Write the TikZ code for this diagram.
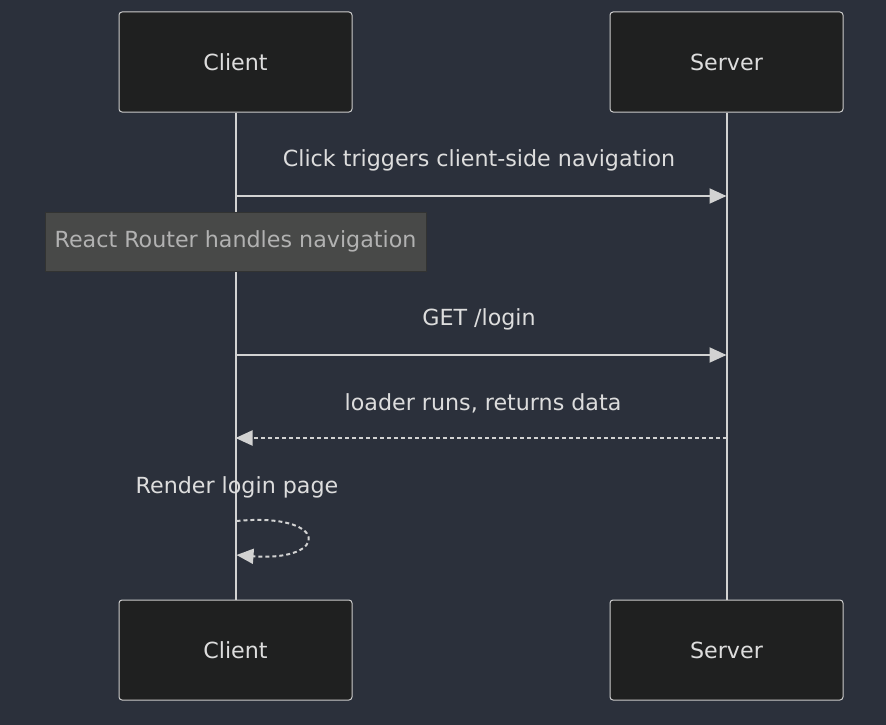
\documentclass[tikz,border=0pt]{standalone}
\usepackage{fontspec}
\setmainfont{DejaVu Sans}
\usetikzlibrary{arrows.meta}
\definecolor{bg}{RGB}{43,48,59}
\definecolor{boxfill}{RGB}{31,32,32}
\definecolor{boxline}{RGB}{204,204,204}
\definecolor{txt}{RGB}{221,221,221}
\definecolor{notefill}{RGB}{72,73,72}
\definecolor{notetxt}{RGB}{178,178,178}
\definecolor{lineclr}{RGB}{210,210,210}
\tikzset{
  fnt/.style={font=\fontsize{22.2}{26}\selectfont},
  actor/.style={draw=boxline, fill=boxfill, line width=1pt, rounded corners=3pt, minimum width=233pt, minimum height=100pt, text=txt, fnt},
  msglabel/.style={text=txt, fnt},
  life/.style={draw=lineclr, line width=2pt},
  msg/.style={draw=lineclr, line width=2pt, -{Triangle[length=17pt,width=15pt]}},
  reply/.style={msg, dash pattern=on 4pt off 3pt},
  notebox/.style={draw=notefill!70!black, fill=notefill, line width=1pt, minimum width=381pt, minimum height=59pt, text=notetxt, fnt},
}
\begin{document}
\begin{tikzpicture}[x=1pt,y=-1pt]
\fill[bg] (0,0) rectangle (886,725);
\useasboundingbox (0,0) rectangle (886,725);
\node[actor] (ct) at (235.5,62) {Client};
\node[actor] (st) at (726.5,62) {Server};
\node[actor] (cb) at (235.5,650) {Client};
\node[actor] (sb) at (726.5,650) {Server};
\draw[life] (ct.south) -- (cb.north);
\draw[life] (st.south) -- (sb.north);
\coordinate (c1) at (235.5,196); \coordinate (s1) at (726.5,196);
\node[msglabel] (l1) at (479,160) {Click triggers client-side navigation};
\draw[msg] (c1) -- (s1);
\node[notebox] (note) at (235.5,241.5) {React Router handles navigation};
\coordinate (c2) at (235.5,355); \coordinate (s2) at (726.5,355);
\node[msglabel] (l2) at (479,319) {GET /login};
\draw[msg] (c2) -- (s2);
\coordinate (c3) at (235.5,438); \coordinate (s3) at (726.5,438);
\node[msglabel] (l3) at (483,403) {loader runs, returns data};
\draw[reply] (s3) -- (c3);
\node[msglabel] (l4) at (237,487) {Render login page};
\coordinate (c4) at (236.5,521); \coordinate (c5) at (236.5,555);
\draw[reply] (c4) .. controls (330,512) and (330,562) .. (c5);
\end{tikzpicture}
\end{document}
